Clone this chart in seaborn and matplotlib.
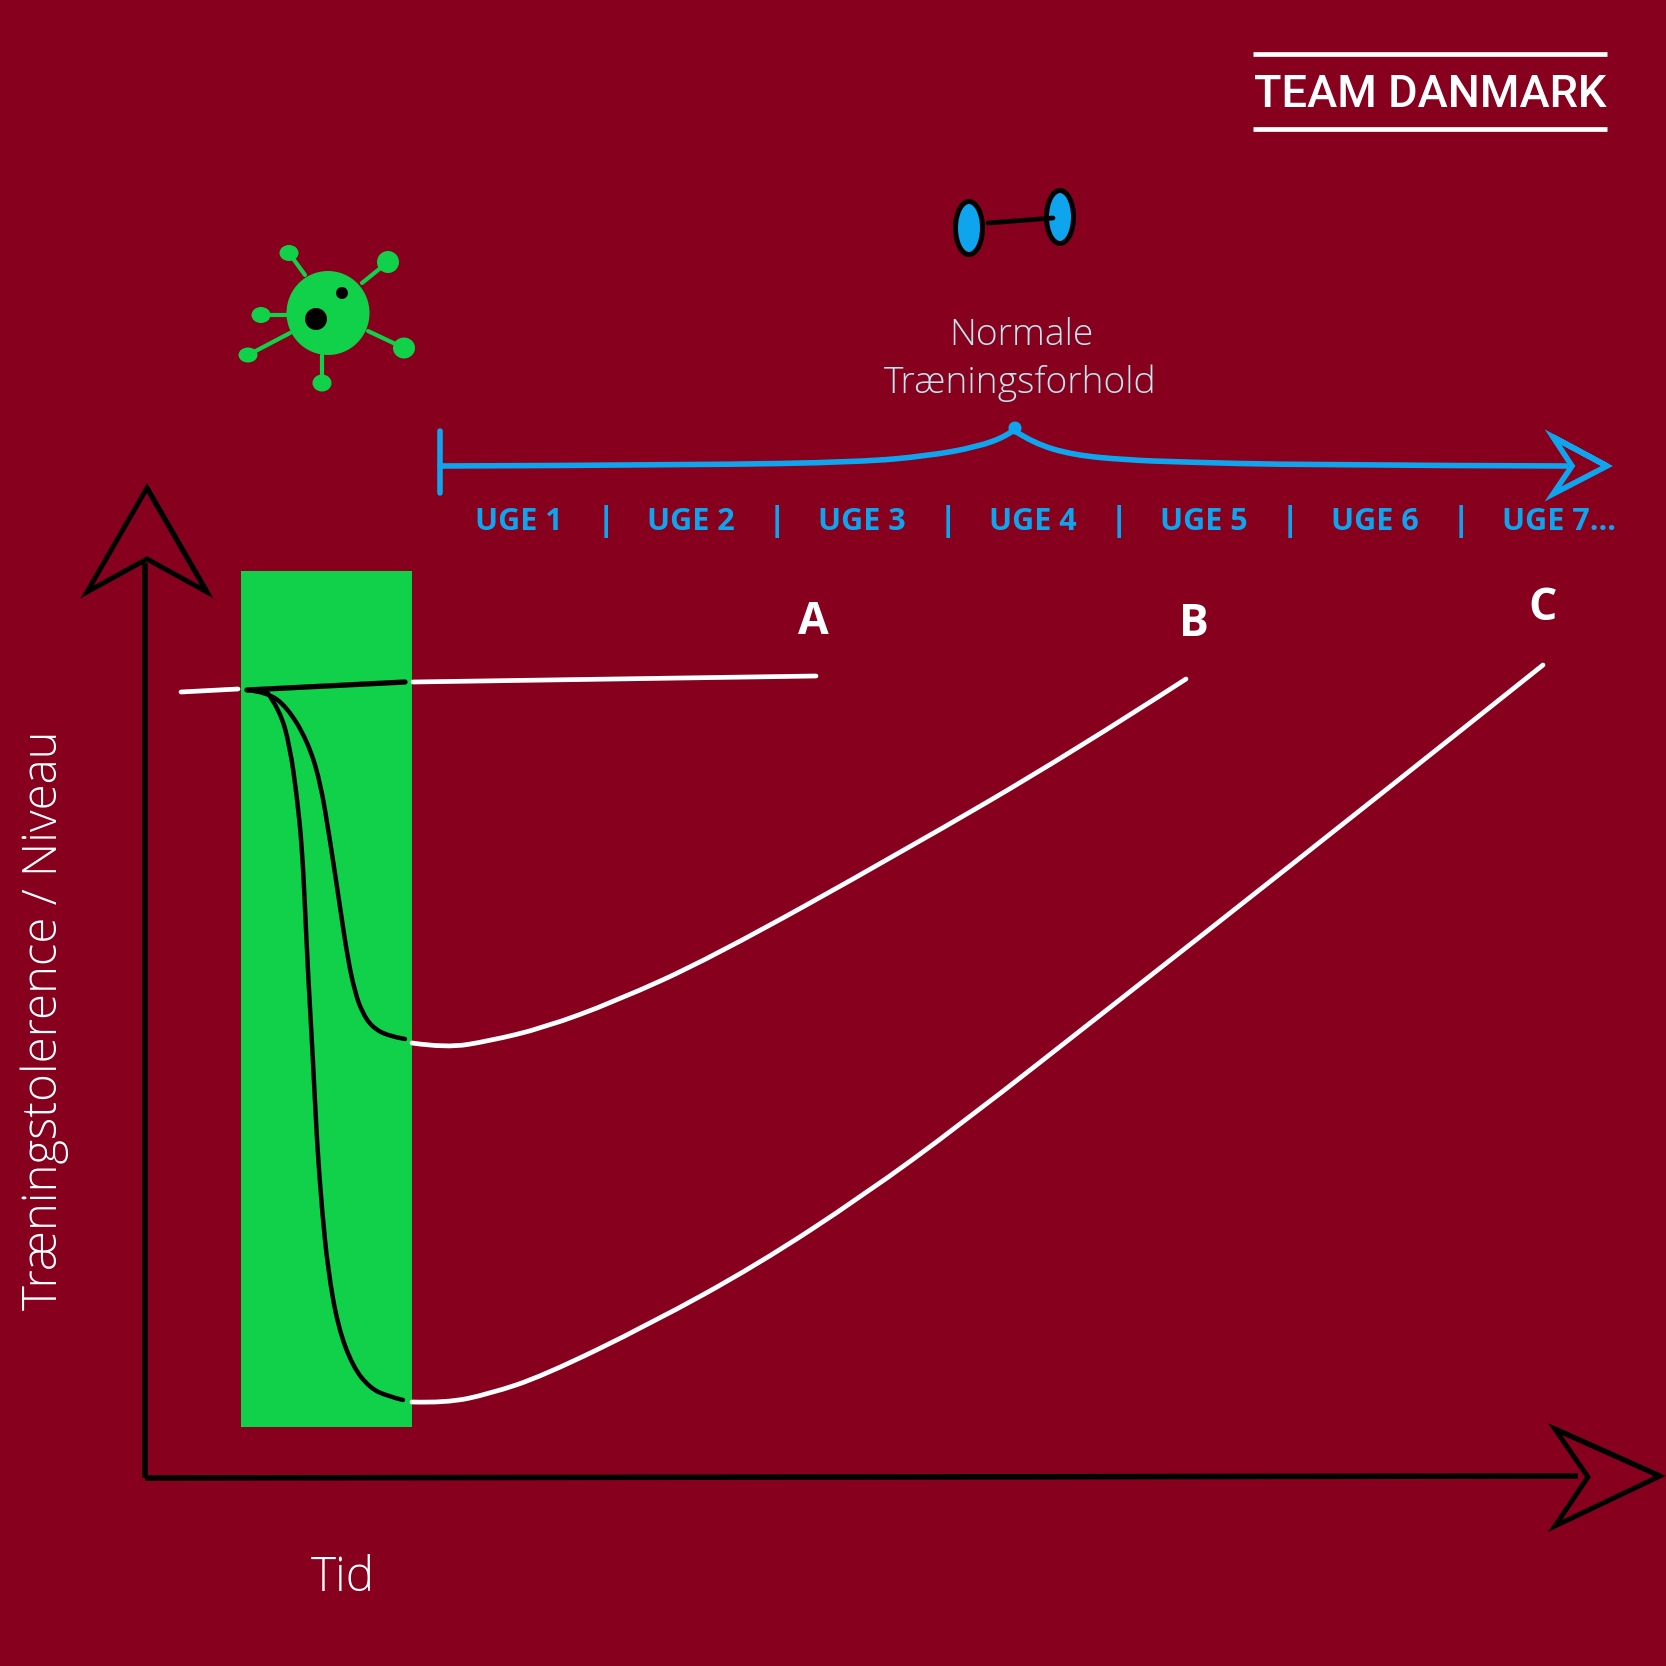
# Visualization
import matplotlib.pyplot as plt
from matplotlib.patches import Ellipse, PathPatch, Rectangle
from matplotlib.path import Path
import seaborn as sns

BG = '#87001e'
GREEN = '#11d14a'
BLUE = '#0fa5ee'
PALE = '#bfe6ee'

# axis positions are read in reference pixels
band_x = [241, 412]
band_y = [571, 1427]

y_axis_x = [145, 145]
y_axis_y = [563, 1478]
x_axis_x = [145, 1578]
x_axis_y = [1478, 1476]
y_head_x = [147, 207, 147, 87]
y_head_y = [488, 592, 559, 592]
x_head_x = [1555, 1660, 1555, 1588]
x_head_y = [1429, 1476, 1526, 1477]

# curves
a_left_x = [181, 238]
a_left_y = [692, 689]
a_in_x = [247, 405]
a_in_y = [690, 682]
a_out_x = [413, 816]
a_out_y = [682, 676]

b_in_x = [247, 267, 287, 307, 320, 330, 340, 348, 355, 362, 372, 388, 405]
b_in_y = [690, 692, 707, 740, 780, 840, 907, 960, 992, 1012, 1027, 1036, 1039]
b_out_x = [412, 446, 489, 543, 614, 711, 900, 1073, 1186]
b_out_y = [1043, 1048, 1041, 1028, 1002, 958, 853, 752, 679]

c_in_x = [267, 280, 290, 297, 302, 305, 308, 313, 317, 322, 328, 338, 353, 370, 387, 403]
c_in_y = [692, 710, 747, 797, 847, 907, 973, 1060, 1143, 1210, 1270, 1327, 1367, 1388, 1396, 1400]
c_out_x = [412, 446, 489, 543, 650, 757, 864, 960, 1117, 1290, 1464, 1543]
c_out_y = [1402, 1403, 1394, 1376, 1324, 1265, 1195, 1125, 1002, 866, 728, 665]

# timeline
brace_left_x = [440, 700, 860, 927, 977, 1007, 1015]
brace_left_y = [466, 465, 462, 456, 447, 436, 429]
brace_right_x = [1015, 1033, 1073, 1127, 1180, 1300, 1566]
brace_right_y = [431, 443, 455, 460, 462, 465, 466]
tick_x = [440, 440]
tick_y = [431, 493]
blue_head_x = [1553, 1607, 1553, 1572]
blue_head_y = [437, 466, 494, 466]
week_labels = ['UGE 1', 'UGE 2', 'UGE 3', 'UGE 4', 'UGE 5', 'UGE 6', 'UGE 7...']
week_x = [518.5, 690.6, 861.7, 1032.7, 1203.8, 1374.9, 1558.7]
sep_x = [605.6, 776.7, 947.7, 1118.8, 1289.9, 1460.9]

# virus: x, y, width, height and where each spoke leaves the body
virus_body = [328, 313, 83, 84]
virus_ends = [(289, 253, 19, 16), (388, 262, 22, 22), (261, 315, 19, 16), (248, 355, 19, 15), (404, 348, 22, 21), (322, 383, 19, 17)]
spoke_start = [(305, 275), (362, 283), (287, 315), (290, 333), (368, 331), (322, 355)]
virus_eyes = [(316, 319, 22), (342, 293, 12)]

# dumbbell
bell_x = [969, 1060]
bell_y = [228, 217]
bar_x = [988, 1053]
bar_y = [223, 218]


def draw_line(ax, x, y, color, width=3.6, cap='round', join='round'):
    sns.lineplot(x=x, y=y, ax=ax, color=color, linewidth=width, sort=False, estimator=None,
                 errorbar=None, legend=False, solid_capstyle=cap, solid_joinstyle=join)


def draw_curve(ax, x, y, color, width=3.4):
    # read points used as bezier controls, so the drawn line stays smooth
    verts = [(x[0], y[0])]
    for i in range(1, len(x) - 1):
        verts.append((x[i], y[i]))
        if i < len(x) - 2:
            verts.append(((x[i] + x[i + 1]) / 2, (y[i] + y[i + 1]) / 2))
    verts.append((x[-1], y[-1]))
    codes = [Path.MOVETO] + [Path.CURVE3] * (len(verts) - 1)
    ax.add_patch(PathPatch(Path(verts, codes), fill=False, edgecolor=color, linewidth=width,
                           capstyle='round', joinstyle='round', zorder=2.5))


def draw_head(ax, x, y, color, width=3.6):
    draw_line(ax, x + x[:2], y + y[:2], color, width=width, cap='butt', join='miter')


def draw_virus(ax):
    for (ex, ey, w, h), (sx, sy) in zip(virus_ends, spoke_start):
        draw_line(ax, [sx, ex], [sy, ey], GREEN, width=3)
        ax.add_patch(Ellipse((ex, ey), w, h, color=GREEN, lw=0))
    ax.add_patch(Ellipse(virus_body[:2], virus_body[2], virus_body[3], color=GREEN, lw=0, zorder=3))
    for ex, ey, d in virus_eyes:
        ax.add_patch(Ellipse((ex, ey), d, d, color='black', lw=0, zorder=4))


def main():
    sns.set_theme(style='white')
    plt.rcParams['font.family'] = ['Open Sans', 'DejaVu Sans']
    fig = plt.figure(figsize=(16.66, 16.66), dpi=100, facecolor=BG)
    ax = fig.add_axes([0, 0, 1, 1])
    ax.set_facecolor(BG)

    ax.add_patch(Rectangle((band_x[0], band_y[0]), band_x[1] - band_x[0], band_y[1] - band_y[0], color=GREEN, lw=0))

    # axes arrows
    draw_line(ax, y_axis_x, y_axis_y, 'black', width=4, cap='butt')
    draw_line(ax, x_axis_x, x_axis_y, 'black', width=4, cap='butt')
    draw_head(ax, y_head_x, y_head_y, 'black')
    draw_head(ax, x_head_x, x_head_y, 'black')

    # curves
    draw_line(ax, a_left_x, a_left_y, 'white', width=3.4)
    draw_line(ax, a_out_x, a_out_y, 'white', width=3.4)
    draw_curve(ax, b_out_x, b_out_y, 'white')
    draw_curve(ax, c_out_x, c_out_y, 'white')
    draw_line(ax, a_in_x, a_in_y, 'black', width=3.8)
    draw_curve(ax, b_in_x, b_in_y, 'black', width=3.2)
    draw_curve(ax, c_in_x, c_in_y, 'black', width=3.2)

    # timeline
    draw_curve(ax, brace_left_x, brace_left_y, BLUE, width=4)
    draw_curve(ax, brace_right_x, brace_right_y, BLUE, width=4)
    draw_line(ax, tick_x, tick_y, BLUE, width=4)
    draw_head(ax, blue_head_x, blue_head_y, BLUE, width=4)
    ax.add_patch(Ellipse((1015, 428), 13, 13, color=BLUE, lw=0))
    for label, x in zip(week_labels, week_x):
        ax.text(x, 522, label, color=BLUE, fontsize=22, fontweight='bold', ha='center', va='center')
    for x in sep_x:
        ax.text(x, 522, '|', color=BLUE, fontsize=24, fontweight='bold', ha='center', va='center')

    # icons
    draw_virus(ax)
    draw_line(ax, bar_x, bar_y, 'black', width=3.4)
    for x, y in zip(bell_x, bell_y):
        ax.add_patch(Ellipse((x, y), 27, 53, facecolor=BLUE, edgecolor='black', lw=3.6, zorder=1.5))

    # text
    ax.text(1021, 335, 'Normale', color=PALE, fontsize=26.8, fontweight='light', ha='center', va='center')
    ax.text(1020, 383, 'Træningsforhold', color=PALE, fontsize=26.8, fontweight='light', ha='center', va='center')
    for label, x, y in [('A', 813, 623), ('B', 1194, 625), ('C', 1543, 609)]:
        ax.text(x, y, label, color='white', fontsize=32, fontweight='bold', ha='center', va='center')
    ax.text(45, 1020, 'Træningstolerence / Niveau', color='white', fontsize=34.1, fontweight='light',
            rotation=90, ha='center', va='center')
    ax.text(343, 1579, 'Tid', color='white', fontsize=34.3, fontweight='light', ha='center', va='center')

    # logo
    draw_line(ax, [1253, 1607], [54, 54], 'white', width=3.4, cap='butt')
    draw_line(ax, [1253, 1607], [129, 129], 'white', width=3.4, cap='butt')
    ax.text(1430, 95, 'TEAM DANMARK', color='white', fontsize=32.6,
            family=['Roboto', 'DejaVu Sans'], fontweight='medium', ha='center', va='center')

    ax.set_xlim(0, 1666)
    ax.set_ylim(1666, 0)
    ax.axis('off')
    fig.savefig('out.png', dpi=100, facecolor=BG)


if __name__ == '__main__':
    main()
